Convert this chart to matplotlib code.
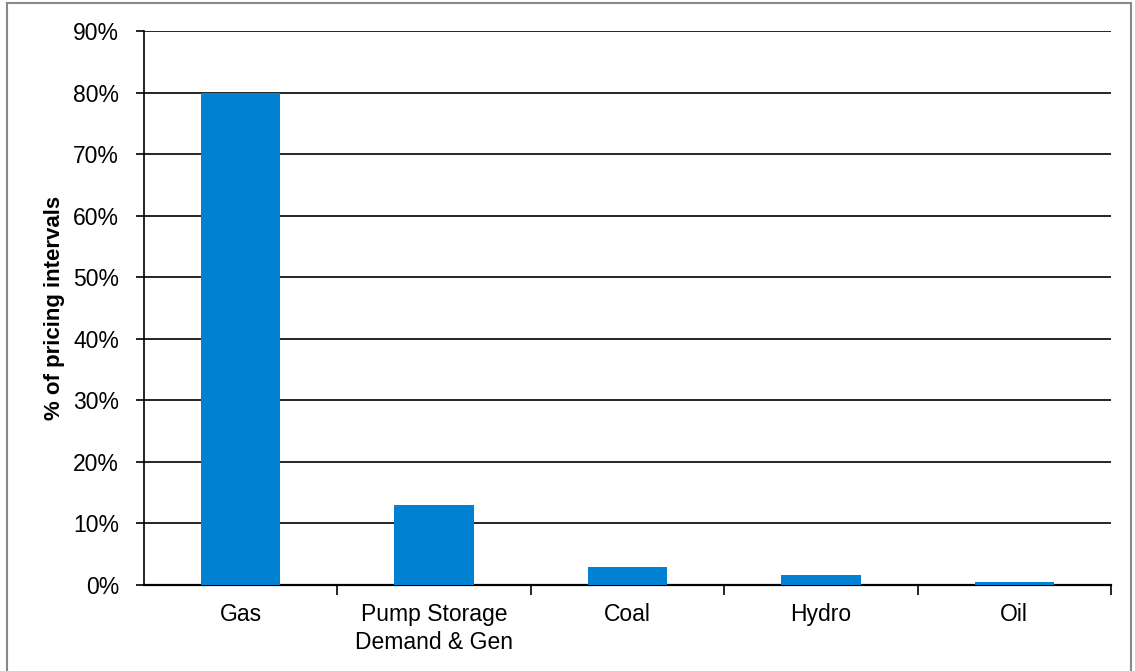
import matplotlib
matplotlib.use("Agg")
import matplotlib.pyplot as plt
from matplotlib.patches import Rectangle
from matplotlib.ticker import FixedLocator, PercentFormatter
import numpy as np

categories = ["Gas", "Pump Storage\nDemand & Gen", "Coal", "Hydro", "Oil"]
values = [80.0, 13.0, 2.9, 1.6, 0.45]
yticks = [0, 10, 20, 30, 40, 50, 60, 70, 80, 90]

plt.rcParams['font.family'] = ['Liberation Sans', 'DejaVu Sans']

fig = plt.figure(figsize=(11.35, 6.71), dpi=100)
ax = fig.add_axes([144/1135, 1-585/671, (1111-144)/1135, (585-31)/671])

x = np.arange(len(categories))
ax.bar(x, values, width=0.41, color='#0081D1', zorder=3)

ax.set_xlim(-0.5, len(categories)-0.5)
ax.set_ylim(0, 90)
ax.set_yticks(yticks)
ax.yaxis.set_major_formatter(PercentFormatter(decimals=0))
ax.yaxis.grid(True, color='black', linewidth=1.2, zorder=0)
ax.set_axisbelow(True)

ax.set_xticks(x)
ax.set_xticklabels(categories, fontsize=16.5, linespacing=1.25)
ax.xaxis.set_minor_locator(FixedLocator(np.arange(-0.5, len(categories), 1.0)[1:]))
ax.tick_params(axis='x', which='major', length=0, pad=13)
ax.tick_params(axis='x', which='minor', length=7, width=1.2, direction='out')
ax.tick_params(axis='y', length=6, width=1.2, pad=12, labelsize=16.5)

for s in ['top', 'right']:
    ax.spines[s].set_visible(False)
ax.spines['left'].set_linewidth(1.2)
ax.spines['bottom'].set_linewidth(1.6)

ax.set_ylabel('% of pricing intervals', fontsize=16, fontweight='bold', labelpad=6)

fig.patches.append(Rectangle((7/1135, -0.01), (1131-7)/1135, 1-3/671+0.01,
                             transform=fig.transFigure, fill=False,
                             edgecolor='#888888', linewidth=1.5))

fig.savefig('out.png', dpi=100)
